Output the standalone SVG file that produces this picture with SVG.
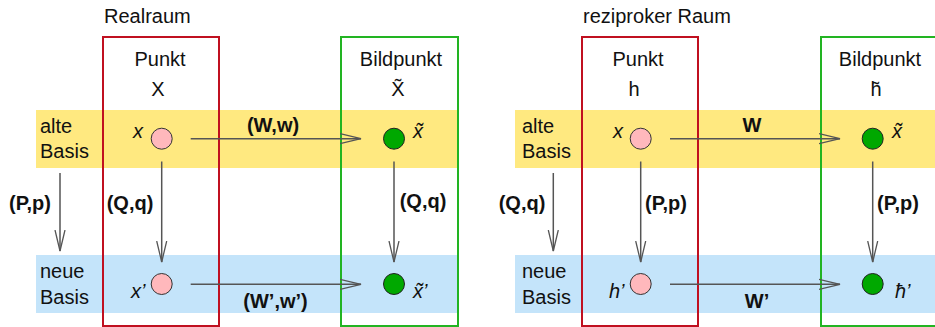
<svg xmlns="http://www.w3.org/2000/svg" width="935" height="327" viewBox="0 0 935 327">
  <defs>
    <style>
      text { font-family: "Liberation Sans", Arial, sans-serif; font-size: 20px; fill: #111; }
      .c { text-anchor: middle; }
      .b { font-weight: bold; }
      .i { font-style: italic; }
      .old { fill: #ffe980; }
      .new { fill: #c4e4fa; }
      .pt { fill: none; stroke: #c01020; stroke-width: 2; }
      .img { fill: none; stroke: #22b422; stroke-width: 2; }
      .src { fill: #ffb8bc; stroke: #333; stroke-width: 1; }
      .dst { fill: #00a800; stroke: #222; stroke-width: 1; }
      .arr { stroke: #555; stroke-width: 1.5; fill: none; marker-end: url(#open); }
    </style>
    <marker id="open" viewBox="0 0 22 12" refX="21" refY="6" markerWidth="22" markerHeight="12" markerUnits="userSpaceOnUse" orient="auto">
      <path d="M0,1 L21,6 L0,11" fill="none" stroke="#555" stroke-width="1.3"/>
    </marker>
  </defs>

  <!-- basis bands -->
  <g id="bands">
    <rect class="old" x="36" y="110" width="421" height="58"/>
    <rect class="new" x="36" y="255" width="421" height="58"/>
    <rect class="old" x="515" y="110" width="420" height="58"/>
    <rect class="new" x="515" y="255" width="420" height="58"/>
  </g>

  <!-- left panel: direct space -->
  <g id="real-title"><text x="104" y="23">Realraum</text></g>
  <g id="real-point">
    <rect class="pt" x="103" y="37" width="116" height="289"/>
    <text class="c" x="160" y="66">Punkt</text>
    <text class="c" x="158" y="96">X</text>
  </g>
  <g id="real-image">
    <rect class="img" x="341" y="37" width="117" height="289"/>
    <text class="c" x="401" y="66">Bildpunkt</text>
    <text class="c" x="398" y="96">X̃</text>
  </g>
  <g id="real-basis-labels">
    <text x="40" y="133">alte</text>
    <text x="40" y="158">Basis</text>
    <text x="40" y="278">neue</text>
    <text x="40" y="304">Basis</text>
  </g>
  <g id="real-x">
    <circle class="src" cx="161.7" cy="138.7" r="10.5"/>
    <text class="i" x="133" y="138">x</text>
  </g>
  <g id="real-xt">
    <circle class="dst" cx="394" cy="138.7" r="10.5"/>
    <text class="i" x="413" y="138">x̃</text>
  </g>
  <g id="real-x2">
    <circle class="src" cx="161.7" cy="284" r="10.5"/>
    <text class="i" x="131" y="298">x’</text>
  </g>
  <g id="real-xt2">
    <circle class="dst" cx="394" cy="284" r="10.5"/>
    <text class="i" x="413" y="298">x̃’</text>
  </g>

  <!-- right panel: reciprocal space -->
  <g id="recip-title"><text x="583" y="23">reziproker Raum</text></g>
  <g id="recip-point">
    <rect class="pt" x="582" y="37" width="116" height="289"/>
    <text class="c" x="638" y="66">Punkt</text>
    <text class="c" x="634" y="96">h</text>
  </g>
  <g id="recip-image">
    <rect class="img" x="821" y="37" width="130" height="289"/>
    <text class="c" x="880" y="66">Bildpunkt</text>
    <text class="c" x="876" y="96">h̃</text>
  </g>
  <g id="recip-basis-labels">
    <text x="522" y="133">alte</text>
    <text x="522" y="158">Basis</text>
    <text x="522" y="278">neue</text>
    <text x="522" y="304">Basis</text>
  </g>
  <g id="recip-h">
    <circle class="src" cx="640.7" cy="138.7" r="10.5"/>
    <text class="i" x="613" y="138">x</text>
  </g>
  <g id="recip-ht">
    <circle class="dst" cx="872.7" cy="138.7" r="10.5"/>
    <text class="i" x="892" y="138">x̃</text>
  </g>
  <g id="recip-h2">
    <circle class="src" cx="640.7" cy="284" r="10.5"/>
    <text class="i" x="609" y="298">h’</text>
  </g>
  <g id="recip-ht2">
    <circle class="dst" cx="872.7" cy="284" r="10.5"/>
    <text class="i" x="895" y="298">ħ’</text>
  </g>

  <!-- connectors -->
  <g id="connectors">
    <line class="arr" x1="190.7" y1="138.7" x2="361" y2="138.7"/>
    <line class="arr" x1="190.7" y1="284.3" x2="361" y2="284.3"/>
    <line class="arr" x1="60" y1="173" x2="60" y2="251"/>
    <line class="arr" x1="161.7" y1="161.5" x2="161.7" y2="262"/>
    <line class="arr" x1="394" y1="161.5" x2="394" y2="262"/>
    <line class="arr" x1="670" y1="138.7" x2="840" y2="138.7"/>
    <line class="arr" x1="670" y1="284.3" x2="840" y2="284.3"/>
    <line class="arr" x1="553.3" y1="173" x2="553.3" y2="251"/>
    <line class="arr" x1="640.7" y1="161.5" x2="640.7" y2="262"/>
    <line class="arr" x1="872.7" y1="161.5" x2="872.7" y2="262"/>

    <text class="b c" x="273" y="132">(W,w)</text>
    <text class="b c" x="275.5" y="308">(W’,w’)</text>
    <text class="b c" x="30" y="210">(P,p)</text>
    <text class="b c" x="130" y="210">(Q,q)</text>
    <text class="b c" x="423" y="208">(Q,q)</text>
    <text class="b c" x="752" y="132">W</text>
    <text class="b c" x="757" y="308">W’</text>
    <text class="b c" x="522" y="210">(Q,q)</text>
    <text class="b c" x="666" y="210">(P,p)</text>
    <text class="b c" x="898" y="210">(P,p)</text>
  </g>
</svg>
